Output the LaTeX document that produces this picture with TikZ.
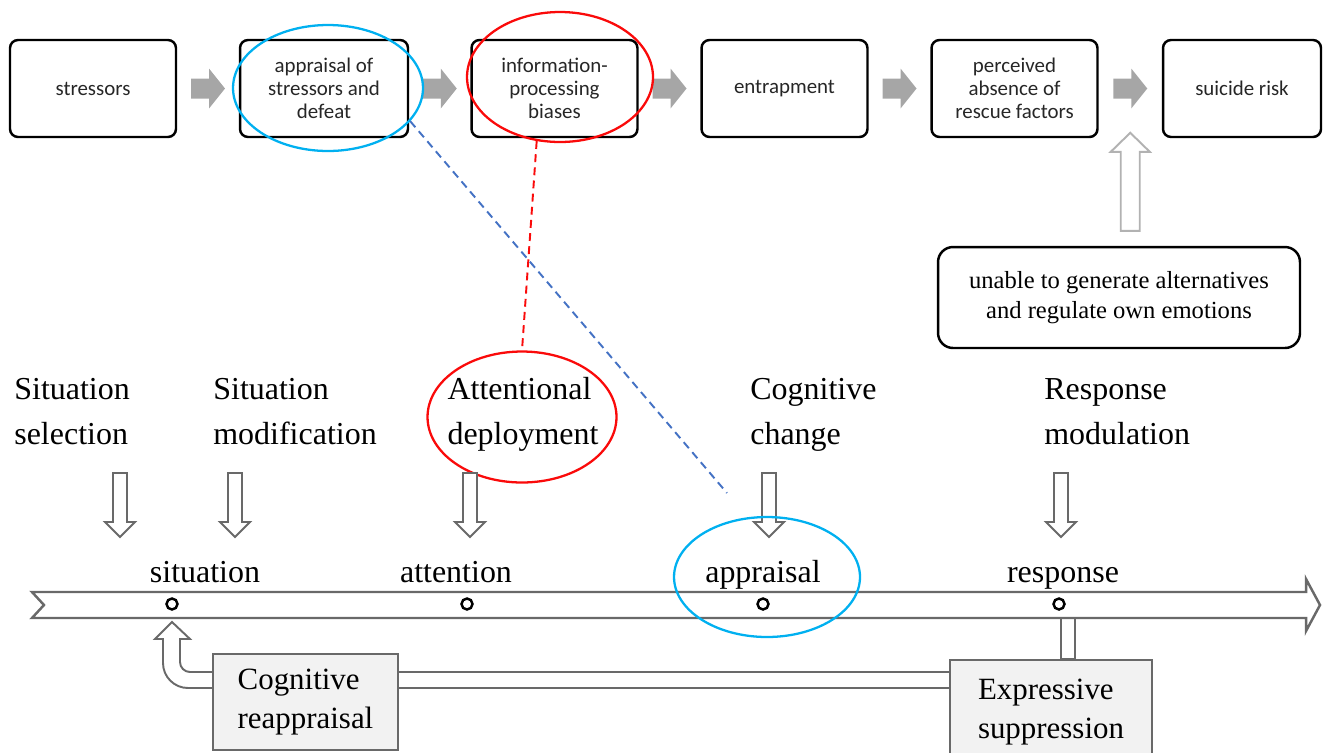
\documentclass[tikz,border=0pt]{standalone}
\usepackage{fontspec}
\setmainfont{Liberation Serif}
\newfontfamily\calibri{Carlito}
\usetikzlibrary{shapes.geometric,calc,backgrounds}
\definecolor{ringblue}{RGB}{0,176,240}
\definecolor{ringred}{RGB}{250,10,10}
\definecolor{linkblue}{RGB}{68,114,196}
\definecolor{blockgray}{RGB}{166,166,166}
\definecolor{edgegray}{RGB}{105,105,105}
\definecolor{panelgray}{RGB}{242,242,242}
\tikzset{
  stage/.style={draw, line width=1.4pt, rounded corners=0.16cm, minimum width=3.32cm,
    minimum height=1.94cm, align=center, text=black!85, font=\calibri\fontsize{11.9}{13}\selectfont},
  process/.style={inner sep=0pt, align=left, font=\fontsize{18.2}{25.5}\selectfont},
  ring/.style={ellipse, line width=1.3pt, inner sep=0pt},
  hollow/.style={draw=edgegray, line width=1.1pt, fill=white},
  tick/.style={circle, draw, line width=1.4pt, minimum size=0.22cm, inner sep=0pt},
  strategy/.style={draw=edgegray, fill=panelgray, line width=0.8pt, align=left,
    font=\fontsize{17.6}{21.8}\selectfont},
  link/.style={line width=1.1pt, dash pattern=on 4.5pt off 3pt}
}
\begin{document}
\begin{tikzpicture}[x=0.02cm, y=-0.02cm]
\useasboundingbox (0,0) rectangle (1324,752);
\clip (0,0) rectangle (1324,752);
\node[stage] (stress) at (93,88.5) {stressors};
\node[stage, minimum width=3.36cm] (apprais) at (324,88.5) {appraisal of\\stressors and\\defeat};
\node[stage] (info) at (554.5,88.5) {information-\\processing\\biases};
\node[stage] (entrap) at (784.5,88.5) {entrapment};
\node[stage] (rescue) at (1014.5,88.5) {perceived\\absence of\\rescue factors};
\node[stage, minimum width=3.16cm] (risk) at (1242,88.5) {suicide risk};
\foreach \a/\b in {stress/apprais, apprais/info, info/entrap, entrap/rescue, rescue/risk}
  \fill[blockgray, shift={($(\a.east)!.5!(\b.west)$)}]
    (-17,-10) -- (1,-10) -- (1,-20) -- (17,0) -- (1,20) -- (1,10) -- (-17,10) -- cycle;
\node[ring, draw=ringblue, minimum width=3.8cm, minimum height=2.52cm] (appring) at (328,88) {};
\node[ring, draw=ringred, minimum width=3.72cm, minimum height=2.6cm] (inforing) at (560,77) {};

\node[draw, line width=1.4pt, rounded corners=0.3cm, minimum width=7.24cm, minimum height=2.02cm,
  align=center, font=\fontsize{14}{17}\selectfont] (unable) at (1119,297.5)
  {unable to generate alternatives\\and regulate own emotions};
\coordinate (gap) at ($(rescue.east)!.5!(risk.west)$);
\draw[hollow, draw=black!30] (unable.north -| gap) ++(-9.5,-15) -- ++(0,-79) -- ++(-10,0)
  -- ++(19.5,-19) -- ++(19.5,19) -- ++(-10,0) -- ++(0,79) -- cycle;

\node[process, anchor=north west] (select) at (14,378) {Situation\\selection};
\node[process, anchor=north west] (modify) at (213,378) {Situation\\modification};
\node[process] (attend) at (523,414) {Attentional\\deployment};
\node[ring, draw=ringred, minimum width=3.78cm, minimum height=2.62cm] (attring) at (522,417) {};
\node[process, anchor=north west] (change) at (750,378) {Cognitive\\change};
\node[process, anchor=north west] (modul) at (1044,378) {Response\\modulation};

\coordinate (apptip) at (727,493);
\draw[link, draw=ringred] (inforing.-110) -- (attring.north);
\draw[link, draw=linkblue] (appring.-22) -- (apptip);

\foreach \x in {120,235,470,769,1061}
  \draw[hollow] (\x-7,473) -- (\x+7,473) -- (\x+7,522) -- (\x+15,522) -- (\x,537)
    -- (\x-15,522) -- (\x-7,522) -- cycle;

\draw[hollow, line width=1.4pt] (32,592) -- (1306,592) -- (1306,579) -- (1320,605) -- (1306,631)
  -- (1306,618) -- (32,618) -- (44,605) -- cycle;
\foreach \x/\lx/\n/\t in {172/205/t1/situation, 467/456/t2/attention, 763/763/t3/appraisal, 1059/1063/t4/response}{
  \node[tick] (\n) at (\x,604) {};
  \node[font=\fontsize{18.2}{22}\selectfont, anchor=base, inner sep=0pt] (l\n) at (\lx,582) {\t};
}
\node[ring, draw=ringblue, minimum width=3.72cm, minimum height=2.4cm] (apring) at (767,577) {};

\node[strategy, minimum width=3.7cm, minimum height=1.92cm] (cog) at (305.5,702) {Cognitive\\reappraisal};
\node[strategy, minimum width=4.04cm, minimum height=2.08cm] (expr) at (1051,712) {Expressive\\suppression};
\begin{scope}[on background layer]
\draw[hollow] (expr.west |- 0,672) [rounded corners=0.2cm] -- (180,672) -- (180,650) [sharp corners]
  -- (180,639) -- (190,639) -- (t1.south |- 0,622) -- (155,639) -- (163,639) -- (163,660)
  [rounded corners=0.5cm] -- (163,688) -- (expr.west |- 0,688);
\draw[hollow] ($(t4)+(2,14)$) rectangle ($(expr.north)+(24,0)$);
\end{scope}
\end{tikzpicture}
\end{document}
